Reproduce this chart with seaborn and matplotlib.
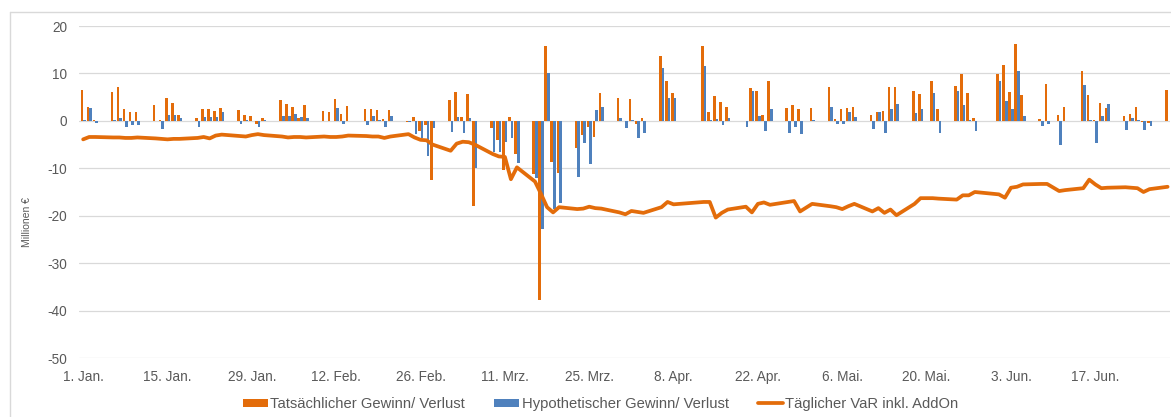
import numpy as np
import pandas as pd
import matplotlib
matplotlib.use("Agg")
import matplotlib.pyplot as plt
from matplotlib.patches import Patch
from matplotlib.lines import Line2D
import seaborn as sns

nan = np.nan

# Trading days shown (business days 1 Jan - 29 Jun 2020)
dates = pd.bdate_range("2020-01-01", "2020-06-29")

# Tatsächlicher Gewinn/ Verlust (Mio. EUR), week by week
actual = [
    6.5, 3.0, 0.1,
    6.0, 7.1, 2.6, 1.9, 1.8,
    3.4, 0.1, 4.9, 3.8, 1.3,
    0.5, 2.5, 2.5, 2.1, 2.8,
    2.3, 1.2, 1.0, -0.6, 0.6,
    4.4, 3.5, 2.9, 0.6, 3.4,
    2.1, 1.8, 4.7, 1.4, 3.2,
    2.6, 2.6, 2.2, 0.4, 2.3,
    -0.2, 0.8, -2.2, -0.8, -12.4,
    4.4, 6.0, 0.8, 5.7, -18.0,
    -1.5, -4.0, -10.3, 0.8, -7.0,
    -11.1, -37.8, 15.7, -8.6, -11.0,
    -5.8, -3.0, -1.2, -3.5, 5.8,
    4.9, 0.0, 4.6, -0.7, 0.6,
    13.6, 8.3, 5.8, nan, nan,
    15.8, 1.8, 5.3, 3.9, 3.0,
    0.0, 6.9, 6.2, 1.3, 8.3,
    2.7, 3.4, 2.5, nan, 2.8,
    7.1, 0.35, 2.5, 2.8, 3.0,
    1.3, 1.8, 2.1, 7.1, 7.1,
    6.2, 5.7, nan, 8.5, 2.5,
    7.4, 9.9, 5.9, 0.5, nan,
    9.9, 11.7, 6.1, 16.2, 5.5,
    0.35, 7.8, nan, 1.2, 3.0,
    10.5, 5.4, 0.2, 3.7, 2.8,
    1.1, 1.5, 3.0, -0.2, -0.5,
    6.5,
]

# Hypothetischer Gewinn/ Verlust (Mio. EUR)
hypothetical = [
    0.1, 2.8, -0.5,
    0.1, 0.6, -1.2, -0.8, -0.8,
    0.0, -1.8, 1.2, 1.2, 0.6,
    -1.2, 0.8, 0.9, 0.9, 1.9,
    -0.7, 0.1, 0.0, -1.2, 0.1,
    1.0, 1.0, 1.5, 0.8, 0.6,
    0.0, 0.0, 2.8, -0.7, 0.0,
    -0.8, 1.0, 0.2, -1.3, 1.0,
    -0.3, -2.8, -3.6, -7.5, -1.5,
    -2.3, 0.9, -2.6, 0.6, -10.0,
    -6.5, -6.5, -4.5, -3.7, -8.8,
    -12.0, -22.7, 10.1, -18.5, -17.4,
    -11.8, -4.6, -9.2, 2.3, 3.0,
    0.7, -1.5, 0.1, -3.7, -2.6,
    11.1, 4.8, 4.8, nan, nan,
    11.5, 0.2, 0.3, -0.8, 0.6,
    -1.3, 6.3, 1.1, -2.2, 2.4,
    -2.5, -1.3, -2.7, nan, 0.1,
    3.0, -0.6, -0.6, 1.8, 0.8,
    -1.7, 1.8, -2.5, 2.5, 3.5,
    1.6, 2.4, nan, 5.8, -2.5,
    6.3, 3.4, 0.2, -2.1, nan,
    8.5, 4.1, 2.5, 10.6, 1.1,
    -1.1, -0.7, nan, -5.1, -0.1,
    7.5, 0.2, -4.7, 1.1, 3.5,
    -2.0, 0.5, 0.2, -1.9, -1.1,
    -0.1,
]

# Täglicher VaR inkl. AddOn (Mio. EUR)
var_addon = [
    -3.9, -3.4, -3.4,
    -3.5, -3.5, -3.6, -3.6, -3.5,
    -3.7, -3.8, -3.9, -3.8, -3.8,
    -3.6, -3.4, -3.7, -3.1, -2.9,
    -3.2, -3.3, -3.0, -2.8, -3.0,
    -3.3, -3.5, -3.4, -3.4, -3.5,
    -3.3, -3.4, -3.4, -3.3, -3.1,
    -3.2, -3.3, -3.3, -3.6, -3.3,
    -2.8, -3.5, -4.0, -4.1, -5.0,
    -6.3, -4.8, -4.4, -4.5, -5.0,
    -7.0, -7.5, -7.6, -12.3, -9.8,
    -12.8, -15.4, -18.2, -19.3, -18.2,
    -18.6, -18.5, -18.1, -18.4, -18.5,
    -19.3, -19.7, -19.0, -19.2, -19.4,
    -18.2, -17.1, -17.6, nan, nan,
    -17.1, -17.1, -20.4, -19.4, -18.7,
    -18.1, -19.3, -17.5, -17.2, -17.7,
    -17.1, -16.9, -19.1, nan, -17.5,
    -18.0, -18.2, -18.6, -18.0, -17.5,
    -19.1, -18.4, -19.4, -18.7, -19.9,
    -17.5, -16.3, nan, -16.3, -16.4,
    -16.6, -15.7, -15.7, -15.0, nan,
    -15.5, -16.2, -14.1, -13.9, -13.4,
    -13.3, -13.3, nan, -14.8, -14.6,
    -14.2, -12.4, -13.4, -14.2, -14.1,
    -14.0, -14.1, -14.2, -15.0, -14.4,
    -13.9,
]

tick_days = [0, 14, 28, 42, 56, 70, 84, 98, 112, 126, 140, 154, 168]
tick_labels = ["1. Jan.", "15. Jan.", "29. Jan.", "12. Feb.", "26. Feb.", "11. Mrz.",
               "25. Mrz.", "8. Apr.", "22. Apr.", "6. Mai.", "20. Mai.", "3. Jun.", "17. Jun."]
y_ticks = [20, 10, 0, -10, -20, -30, -40, -50]

series_names = ["Tatsächlicher Gewinn/ Verlust", "Hypothetischer Gewinn/ Verlust",
                "Täglicher VaR inkl. AddOn"]

ORANGE = "#E36C0A"
BLUE = "#4F81BD"
GREY_TXT = "#595959"
GRID = "#D9D9D9"

assert len(actual) == len(dates) == len(hypothetical) == len(var_addon)

day = np.array((dates - pd.Timestamp("2020-01-01")).days)

bars = pd.concat([
    pd.DataFrame({"day": day, "value": actual, "series": series_names[0]}),
    pd.DataFrame({"day": day, "value": hypothetical, "series": series_names[1]}),
]).dropna(subset=["value"])

line = pd.DataFrame({"day": day, "value": var_addon}).dropna()

sns.set_theme(style="white")
plt.rcParams["font.family"] = ["Liberation Sans", "DejaVu Sans"]

fig = plt.figure(figsize=(11.71, 4.17), dpi=100)
ax = fig.add_axes([79 / 1171, 1 - 358 / 417, (1170 - 79) / 1171, (358 - 26) / 417])

sns.barplot(data=bars, x="day", y="value", hue="series", hue_order=series_names[:2],
            palette=[ORANGE, BLUE], native_scale=True, dodge=True, width=0.86,
            errorbar=None, legend=False, ax=ax, linewidth=0, saturation=1)
sns.lineplot(data=line, x="day", y="value", color=ORANGE, linewidth=2.7,
             estimator=None, ax=ax)

ax.set_xlim(-0.69, 180.4)
ax.set_ylim(-50, 20)
ax.set_yticks(y_ticks)
ax.set_yticklabels([str(v) for v in y_ticks])
ax.set_xticks(tick_days)
ax.set_xticklabels(tick_labels)
ax.tick_params(axis="both", length=0, labelsize=9.8, colors=GREY_TXT)
ax.tick_params(axis="y", pad=8.5)
ax.tick_params(axis="x", pad=8.5)
ax.set_xlabel("")
ax.set_ylabel("")
ax.yaxis.grid(True, color=GRID, linewidth=0.9)
ax.xaxis.grid(False)
ax.set_axisbelow(True)
for s in ax.spines.values():
    s.set_visible(False)

fig.text(27 / 1171, 1 - 222 / 417, "Millionen €", rotation=90, ha="center", va="center",
         fontsize=7.5, color=GREY_TXT)

handles = [Patch(facecolor=ORANGE, edgecolor="none"),
           Patch(facecolor=BLUE, edgecolor="none"),
           Line2D([0], [0], color=ORANGE, linewidth=2.7)]
leg = fig.legend(handles, series_names, loc="center", bbox_to_anchor=(0.513, 0.031),
                 ncol=3, frameon=False, fontsize=10.6, handlelength=1.7, handleheight=0.45,
                 handletextpad=0.15, columnspacing=2.0, borderaxespad=0)
for t in leg.get_texts():
    t.set_color(GREY_TXT)

# outer chart frame (top and left edges visible)
fig.add_artist(Line2D([10 / 1171, 1], [1 - 11.7 / 417, 1 - 11.7 / 417],
                      transform=fig.transFigure, color=GRID, linewidth=1))
fig.add_artist(Line2D([10 / 1171, 10 / 1171], [0, 1 - 11.7 / 417],
                      transform=fig.transFigure, color=GRID, linewidth=1))

fig.savefig("out.png", dpi=100)
